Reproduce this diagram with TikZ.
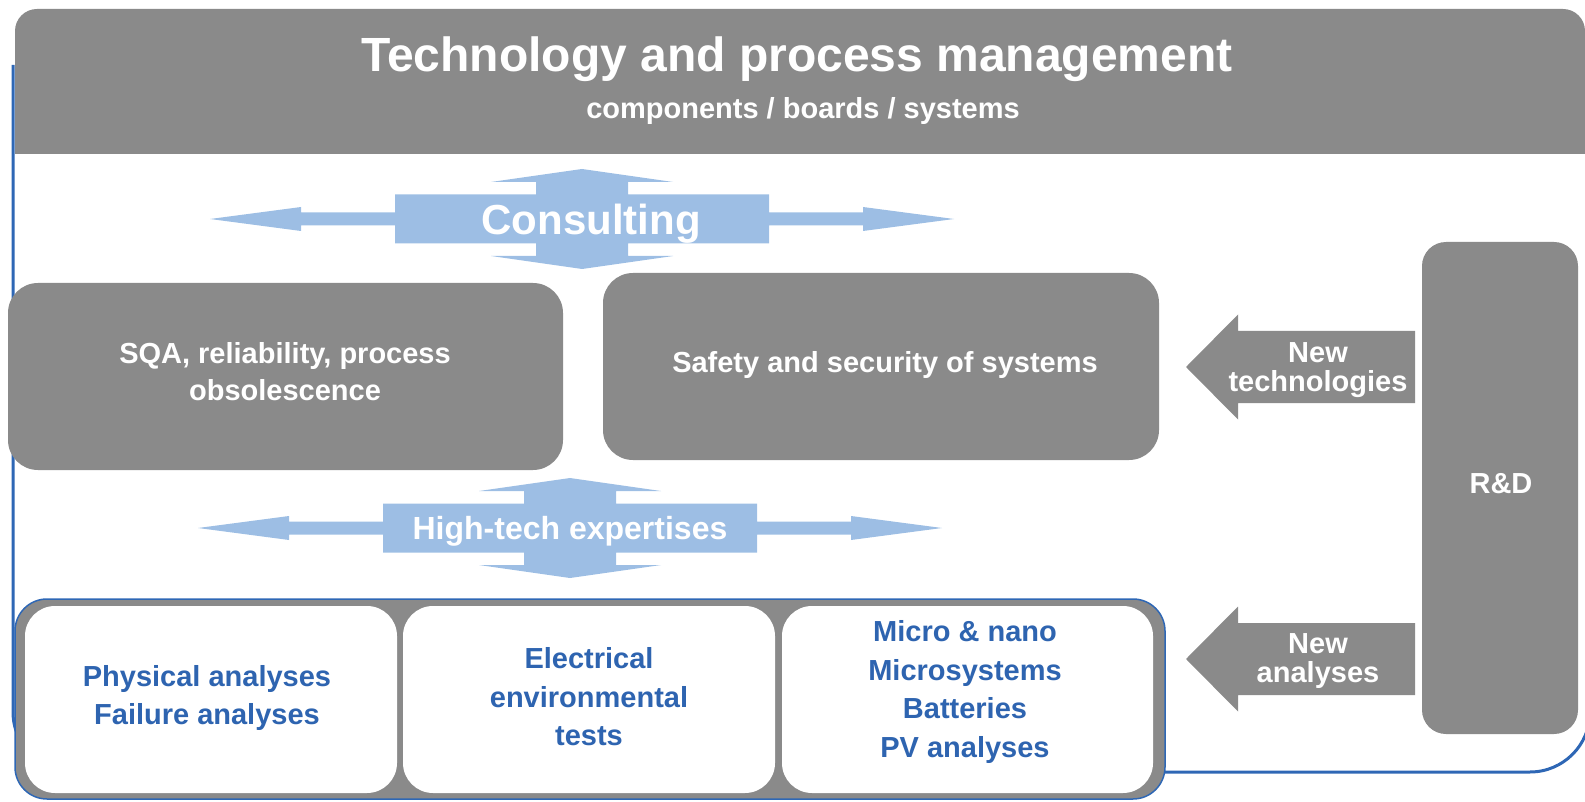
\documentclass[tikz,border=0pt]{standalone}
\usepackage{fontspec}
\setmainfont{Liberation Sans}
\definecolor{boxgray}{RGB}{138,138,138}
\definecolor{arrowblue}{RGB}{157,190,228}
\definecolor{textblue}{RGB}{46,100,176}
\definecolor{frameblue}{RGB}{46,103,181}
\begin{document}
\begin{tikzpicture}[x=1pt,y=-1pt, line join=round, font=\bfseries]
	\tikzset{graybox/.style={fill=boxgray, rounded corners=30pt},
		whitebox/.style={fill=white, rounded corners=30pt},
		whitetext/.style={text=white, align=center, font=\bfseries\fontsize{29}{37}\selectfont},
		bluetext/.style={text=textblue, align=center, font=\bfseries\fontsize{29}{38.6}\selectfont},
		pics/crossarrow/.style={code={
			\fill[arrowblue] (-372,0) -- (-281,-12) -- (-281,-6.5) -- (-187,-6.5) -- (-187,-24.5)
			-- (-46,-24.5) -- (-46,-37) -- (-91,-37) -- (0,-50) -- (91,-37) -- (46,-37) -- (46,-24.5)
			-- (187,-24.5) -- (187,-6.5) -- (281,-6.5) -- (281,-12) -- (372,0) -- (281,12) -- (281,6.5)
			-- (187,6.5) -- (187,24.5) -- (46,24.5) -- (46,37) -- (91,37) -- (0,50) -- (-91,37)
			-- (-46,37) -- (-46,24.5) -- (-187,24.5) -- (-187,6.5) -- (-281,6.5) -- (-281,12) -- cycle;}},
		pics/leftarrow/.style={code={
			\fill[boxgray] (0,0) -- (52,-52.5) -- (52,-36) -- (229,-36) -- (229,36) -- (52,36)
			-- (52,52.5) -- cycle;}}}
	\clip (0,0) rectangle (1585,802);
	% outer frame
	\draw[frameblue, line width=3pt, rounded corners=60pt] (13,65) -- (13,772) -- (1590,772) -- (1590,120);
	% header
	\fill[boxgray, rounded corners=22pt] (15,9) rectangle (1585,154);
	\fill[boxgray] (15,110) rectangle (1585,154);
	\node[text=white, font=\bfseries\fontsize{48}{48}\selectfont] (title) at (797,59) {Technology and process management};
	\node[text=white, font=\bfseries\fontsize{29}{29}\selectfont] (subtitle) at (803,111) {components / boards / systems};
	% blue arrows
	\pic at (582,219) {crossarrow};
	\node[text=white, font=\bfseries\fontsize{42}{42}\selectfont] (consult) at (591,224) {Consulting};
	\pic at (570,528) {crossarrow};
	\node[text=white, font=\bfseries\fontsize{32}{32}\selectfont] (expert) at (570,531) {High-tech expertises};
	% middle boxes
	\fill[graybox] (8,283) rectangle (563,470);
	\node[whitetext] (sqa) at (285,372) {SQA, reliability, process\\obsolescence};
	\fill[graybox] (603,273) rectangle (1159,460);
	\node[whitetext] (safety) at (885,365) {Safety and security of systems};
	% R&D
	\fill[boxgray, rounded corners=24pt] (1422,242) rectangle (1578,734);
	\node[whitetext] (rd) at (1501,484) {R\&D};
	\pic at (1186,367) {leftarrow};
	\node[whitetext, font=\bfseries\fontsize{29}{29}\selectfont] (newtech) at (1318,370) {New\\technologies};
	\pic at (1186,659) {leftarrow};
	\node[whitetext, font=\bfseries\fontsize{29}{29}\selectfont] (newana) at (1318,661) {New\\analyses};
	% bottom boxes
	\draw[frameblue, fill=boxgray, line width=1.5pt, rounded corners=32pt] (15,599) rectangle (1165,799);
	\fill[whitebox] (25,606) rectangle (397,793);
	\fill[whitebox] (403,606) rectangle (775,793);
	\fill[whitebox] (782,606) rectangle (1153,793);
	\node[bluetext] (phys) at (207,698) {Physical analyses\\Failure analyses};
	\node[bluetext] (elec) at (589,697) {Electrical\\environmental\\tests};
	\node[bluetext] (micro) at (965,692) {Micro \& nano\\Microsystems\\Batteries\\PV analyses};
\end{tikzpicture}
\end{document}
